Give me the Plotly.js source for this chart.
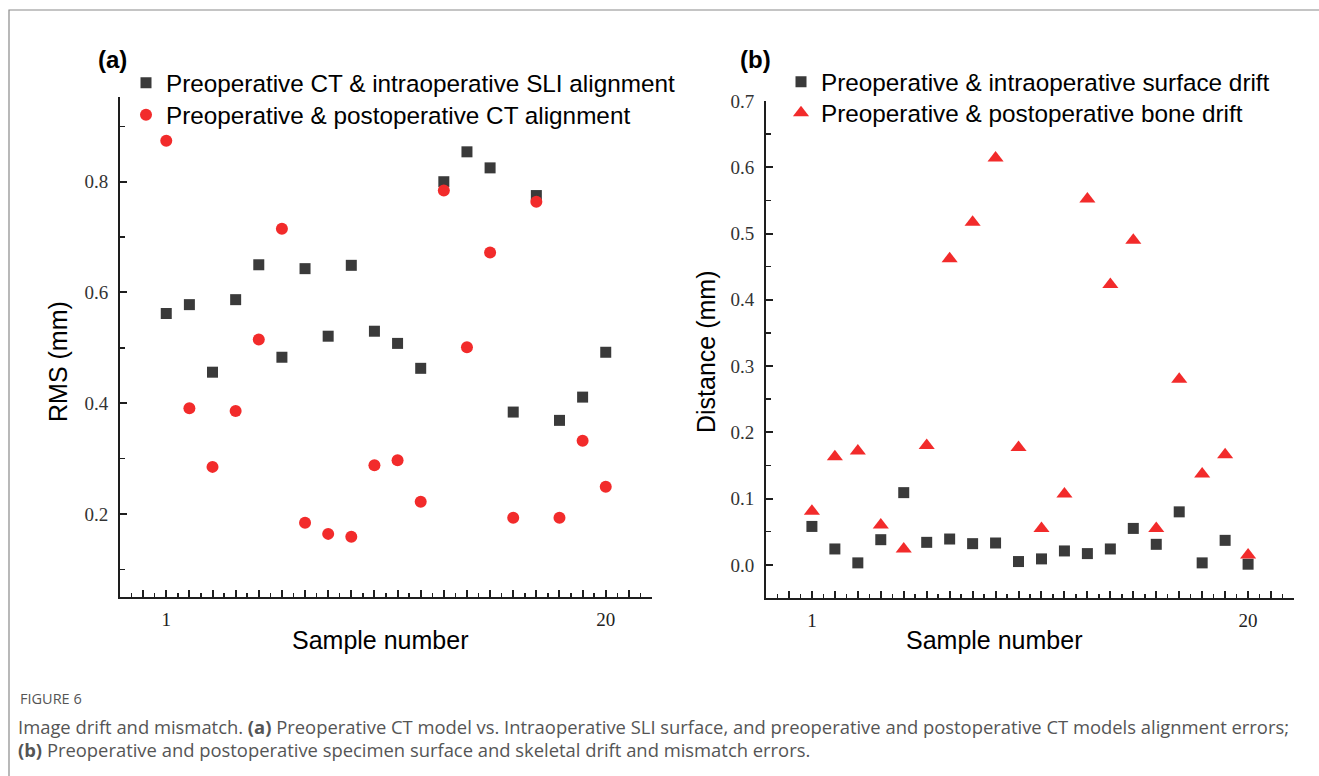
<!DOCTYPE html>
<html>
<head>
<meta charset="utf-8">
<script src="https://cdn.plot.ly/plotly-3.0.1.min.js"></script>
<style>html,body{margin:0;padding:0;background:#fff;}#chart{width:1319px;height:776px;}</style>
</head>
<body>
<div id="chart"></div>
<script>
// ---- Data ----
const samples = [1,2,3,4,5,6,7,8,9,10,11,12,13,14,15,16,17,18,19,20];
const rmsSLI = [0.562,0.578,0.456,0.587,0.650,0.483,0.643,0.521,0.649,0.530,0.508,0.463,0.800,0.854,0.825,0.384,0.775,0.369,0.411,0.492];
const rmsCT  = [0.874,0.391,0.285,0.386,0.515,0.715,0.184,0.164,0.159,0.288,0.297,0.222,0.784,0.501,0.672,0.193,0.764,0.193,0.332,0.249];
const surfaceDrift = [0.058,0.024,0.003,0.038,0.109,0.034,0.039,0.032,0.033,0.005,0.009,0.021,0.017,0.024,0.055,0.031,0.080,0.003,0.037,0.001];
const boneDrift    = [0.081,0.163,0.172,0.060,0.024,0.180,0.462,0.517,0.614,0.177,0.055,0.107,0.552,0.423,0.490,0.055,0.280,0.137,0.166,0.015];

const seriesNamesA = ['Preoperative CT & intraoperative SLI alignment', 'Preoperative & postoperative CT alignment'];
const seriesNamesB = ['Preoperative & intraoperative surface drift', 'Preoperative & postoperative bone drift'];
const xLabeled = [1, 20];
const yTicksA = [0.2, 0.4, 0.6, 0.8];
const yTicksB = [0.0, 0.1, 0.2, 0.3, 0.4, 0.5, 0.6, 0.7];
const panelLabels = ['(a)', '(b)'];
const axisTitles = {xA: 'Sample number', yA: 'RMS (mm)', xB: 'Sample number', yB: 'Distance (mm)'};
const captionHead = 'FIGURE 6';
const captionLine1 = 'Image drift and mismatch. <b>(a)</b> Preoperative CT model vs. Intraoperative SLI surface, and preoperative and postoperative CT models alignment errors;';
const captionLine2 = '<b>(b)</b> Preoperative and postoperative specimen surface and skeletal drift and mismatch errors.';

// ---- Helpers ----
const W = 1319, H = 776;
const px = v => v / W;
const py = v => 1 - v / H;

const xTickVals = [];
for (let i = -1; i <= 22; i++) xTickVals.push(i);
const xTickText = xTickVals.map(v => xLabeled.includes(v) ? String(v) : '');

const BLACK = '#3a3a3a', RED = '#f22b2b', AX = '#1e1e1e';
const serif = 'Liberation Serif, Times New Roman, serif';
const sans = 'Liberation Sans, Arial, sans-serif';

function xAxis(dom, anchor) {
  return {
    domain: dom, anchor: anchor, range: [-1, 22],
    tickmode: 'array', tickvals: xTickVals, ticktext: xTickText,
    ticks: 'inside', ticklen: 7, tickwidth: 2, tickcolor: AX,
    showline: true, linewidth: 2, linecolor: AX,
    showgrid: false, zeroline: false, ticklabelstandoff: 4,
    tickfont: {family: serif, size: 19, color: '#222'},
    minor: {dtick: 0.5, tick0: 0, ticks: 'inside', ticklen: 4, tickwidth: 1.5, tickcolor: AX}
  };
}
function yAxis(dom, anchor, range, vals, fmt, minorD) {
  return {
    domain: dom, anchor: anchor, range: range,
    tickmode: 'array', tickvals: vals, ticktext: vals.map(v => v.toFixed(fmt)),
    ticks: 'inside', ticklen: 7, tickwidth: 2, tickcolor: AX,
    showline: true, linewidth: 2, linecolor: AX,
    showgrid: false, zeroline: false, ticklabelstandoff: 6,
    tickfont: {family: serif, size: 19, color: '#333'},
    minor: {dtick: minorD, tick0: 0, ticks: 'inside', ticklen: 5, tickwidth: 1.5, tickcolor: AX}
  };
}

const traces = [
  {x: samples, y: rmsSLI, name: seriesNamesA[0], type: 'scatter', mode: 'markers', xaxis: 'x', yaxis: 'y', legend: 'legend',
   marker: {symbol: 'square', size: 11, color: BLACK, line: {width: 0}}},
  {x: samples, y: rmsCT, name: seriesNamesA[1], type: 'scatter', mode: 'markers', xaxis: 'x', yaxis: 'y', legend: 'legend2',
   marker: {symbol: 'circle', size: 12, color: RED, line: {width: 0}}},
  {x: samples, y: surfaceDrift, name: seriesNamesB[0], type: 'scatter', mode: 'markers', xaxis: 'x2', yaxis: 'y2', legend: 'legend3',
   marker: {symbol: 'square', size: 11, color: BLACK, line: {width: 0}}},
  {x: samples, y: boneDrift, name: seriesNamesB[1], type: 'scatter', mode: 'markers', xaxis: 'x2', yaxis: 'y2', legend: 'legend4',
   marker: {symbol: 'triangle-up', size: 14, color: RED, line: {width: 0}}}
];

const legendBase = {
  xanchor: 'left', yanchor: 'middle', bgcolor: 'rgba(0,0,0,0)', borderwidth: 0,
  font: {family: sans, size: 24.3, color: '#000'}, itemwidth: 30, tracegroupgap: 0
};

const annFont = {family: sans, size: 25, color: '#000'};
const annotations = [
  {xref: 'paper', yref: 'paper', x: px(112), y: py(60), text: '<b>' + panelLabels[0] + '</b>', showarrow: false, xanchor: 'center', yanchor: 'middle', font: {family: sans, size: 24, color: '#000'}},
  {xref: 'paper', yref: 'paper', x: px(755), y: py(60), text: '<b>' + panelLabels[1] + '</b>', showarrow: false, xanchor: 'center', yanchor: 'middle', font: {family: sans, size: 24, color: '#000'}},
  {xref: 'paper', yref: 'paper', x: px(380), y: py(640), text: axisTitles.xA, showarrow: false, xanchor: 'center', yanchor: 'middle', font: annFont},
  {xref: 'paper', yref: 'paper', x: px(994), y: py(640), text: axisTitles.xB, showarrow: false, xanchor: 'center', yanchor: 'middle', font: annFont},
  {xref: 'paper', yref: 'paper', x: px(58), y: py(362), text: axisTitles.yA, textangle: -90, showarrow: false, xanchor: 'center', yanchor: 'middle', font: annFont},
  {xref: 'paper', yref: 'paper', x: px(706), y: py(352), text: axisTitles.yB, textangle: -90, showarrow: false, xanchor: 'center', yanchor: 'middle', font: annFont},
  {xref: 'paper', yref: 'paper', x: px(18), y: py(698), text: captionHead, showarrow: false, xanchor: 'left', yanchor: 'middle', font: {family: 'Open Sans, sans-serif', size: 14.5, color: '#555'}},
  {xref: 'paper', yref: 'paper', x: px(16), y: py(726), text: captionLine1, showarrow: false, xanchor: 'left', yanchor: 'middle', font: {family: 'Open Sans, sans-serif', size: 18.4, color: '#555'}},
  {xref: 'paper', yref: 'paper', x: px(16), y: py(749), text: captionLine2, showarrow: false, xanchor: 'left', yanchor: 'middle', font: {family: 'Open Sans, sans-serif', size: 18.4, color: '#555'}}
];

const layout = {
  width: W, height: H, margin: {l: 0, r: 0, t: 0, b: 0},
  paper_bgcolor: '#fff', plot_bgcolor: '#fff', showlegend: true,
  xaxis: xAxis([px(120), px(652)], 'y'),
  yaxis: yAxis([py(597), py(97)], 'x', [0.05, 0.953], yTicksA, 1, 0.1),
  xaxis2: xAxis([px(766), px(1294)], 'y2'),
  yaxis2: yAxis([py(598), py(101)], 'x2', [-0.05, 0.7], yTicksB, 1, 0.05),
  legend:  Object.assign({}, legendBase, {x: px(126), y: py(83)}),
  legend2: Object.assign({}, legendBase, {x: px(126), y: py(115)}),
  legend3: Object.assign({}, legendBase, {x: px(781), y: py(82)}),
  legend4: Object.assign({}, legendBase, {x: px(781), y: py(113)}),
  annotations: annotations,
  shapes: [
    {type: 'rect', xref: 'paper', yref: 'paper', x0: px(9), x1: 1.05, y0: -0.05, y1: py(10), line: {color: '#8a8a8a', width: 1.2}}
  ]
};

Plotly.newPlot('chart', traces, layout, {displayModeBar: false, staticPlot: true});
</script>
</body>
</html>
